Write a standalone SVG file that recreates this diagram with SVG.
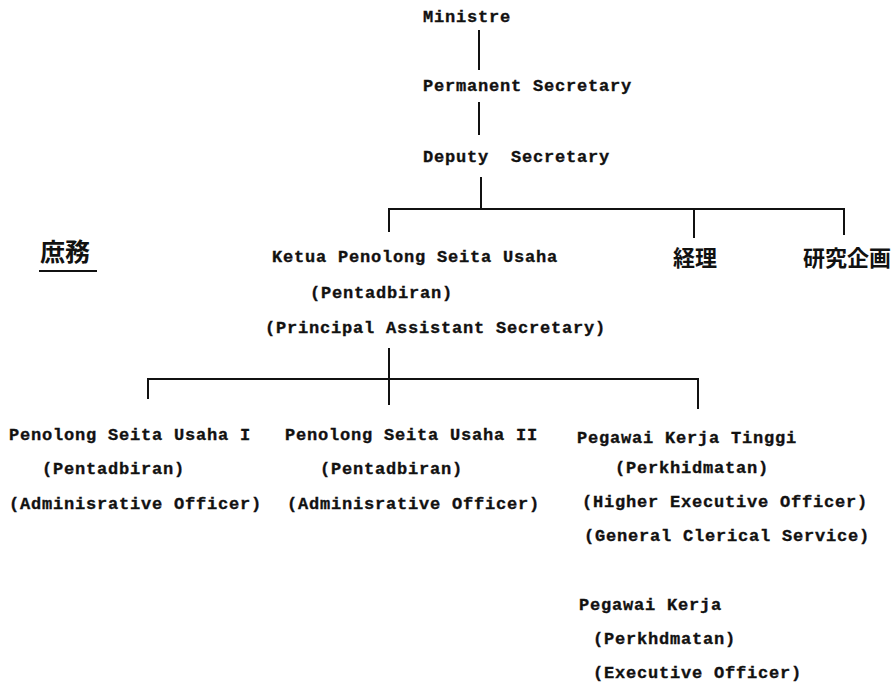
<svg xmlns="http://www.w3.org/2000/svg" width="892" height="683" viewBox="0 0 892 683">
<style>
.t{font-family:"Liberation Mono","DejaVu Sans Mono",monospace;font-size:17px;font-weight:bold;letter-spacing:0.8px;fill:#111;stroke:#111;stroke-width:0.35;white-space:pre}
.c{font-family:"Noto Sans CJK JP","Noto Sans CJK SC",sans-serif;font-size:22px;font-weight:bold;fill:#111}
.ln{stroke:#111;stroke-width:2;fill:none}
</style>
<rect width="892" height="683" fill="#fff"/>
<g id="connectors">
<line class="ln" x1="479" y1="30" x2="479" y2="70"/>
<line class="ln" x1="479" y1="102" x2="479" y2="135"/>
<line class="ln" x1="481" y1="177" x2="481" y2="209"/>
<polyline class="ln" points="389,232 389,209 844,209 844,235"/>
<line class="ln" x1="694" y1="209" x2="694" y2="238"/>
<line class="ln" x1="389" y1="348" x2="389" y2="405"/>
<polyline class="ln" points="148,399 148,379 698,379 698,409"/>
<line class="ln" x1="39" y1="271" x2="97" y2="271"/>
</g>
<g id="ministre"><text class="t" x="423" y="22">Ministre</text></g>
<g id="permanent"><text class="t" x="423" y="91">Permanent Secretary</text></g>
<g id="deputy"><text class="t" x="423" y="162" xml:space="preserve">Deputy  Secretary</text></g>
<g id="shomu"><text class="c" x="40" y="261" style="font-size:25px">庶務</text></g>
<g id="ketua">
<text class="t" x="272" y="262">Ketua Penolong Seita Usaha</text>
<text class="t" x="310" y="298">(Pentadbiran)</text>
<text class="t" x="265" y="333">(Principal Assistant Secretary)</text>
</g>
<g id="keiri"><text class="c" x="673" y="266">経理</text></g>
<g id="kenkyu"><text class="c" x="803" y="266">研究企画</text></g>
<g id="penolong1">
<text class="t" x="9" y="440">Penolong Seita Usaha I</text>
<text class="t" x="42" y="474">(Pentadbiran)</text>
<text class="t" x="9" y="509">(Adminisrative Officer)</text>
</g>
<g id="penolong2">
<text class="t" x="285" y="440">Penolong Seita Usaha II</text>
<text class="t" x="320" y="474">(Pentadbiran)</text>
<text class="t" x="287" y="509">(Adminisrative Officer)</text>
</g>
<g id="pegawai-tinggi">
<text class="t" x="577" y="443">Pegawai Kerja Tinggi</text>
<text class="t" x="615" y="473">(Perkhidmatan)</text>
<text class="t" x="582" y="507">(Higher Executive Officer)</text>
<text class="t" x="584" y="541">(General Clerical Service)</text>
</g>
<g id="pegawai-kerja">
<text class="t" x="579" y="610">Pegawai Kerja</text>
<text class="t" x="593" y="644">(Perkhdmatan)</text>
<text class="t" x="593" y="678">(Executive Officer)</text>
</g>
</svg>
